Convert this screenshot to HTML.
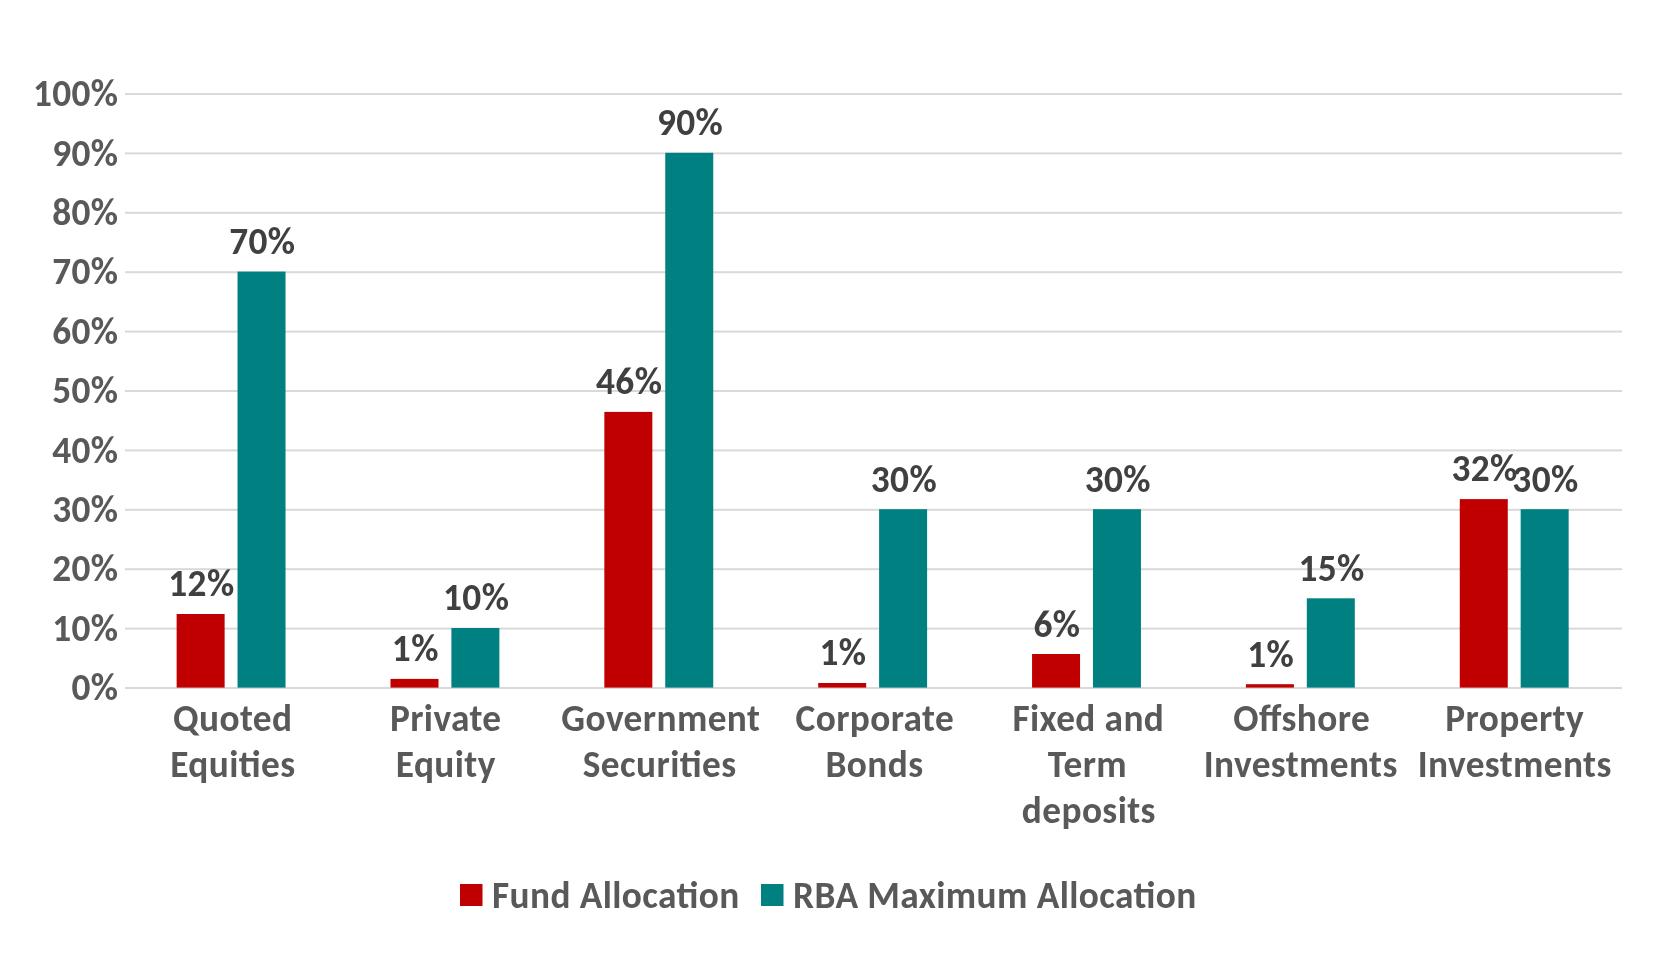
<!DOCTYPE html>
<html><head><meta charset="utf-8"><title>Fund Allocation vs RBA Maximum Allocation</title>
<style>
html,body{margin:0;padding:0;background:#fff;width:1680px;height:953px;overflow:hidden}
svg{display:block;will-change:transform}
text{font-family:Carlito, 'Liberation Sans', sans-serif;font-weight:bold;font-size:37.33px;letter-spacing:0.4px;font-feature-settings:'liga' 1}
</style></head><body>
<svg width="1680" height="953" viewBox="0 0 1680 953">
<rect width="1680" height="953" fill="#fff"/>
<rect x="125" y="687.00" width="1497" height="2" fill="#d9d9d9"/>
<rect x="125" y="627.60" width="1497" height="2" fill="#d9d9d9"/>
<rect x="125" y="568.20" width="1497" height="2" fill="#d9d9d9"/>
<rect x="125" y="508.80" width="1497" height="2" fill="#d9d9d9"/>
<rect x="125" y="449.40" width="1497" height="2" fill="#d9d9d9"/>
<rect x="125" y="390.00" width="1497" height="2" fill="#d9d9d9"/>
<rect x="125" y="330.60" width="1497" height="2" fill="#d9d9d9"/>
<rect x="125" y="271.20" width="1497" height="2" fill="#d9d9d9"/>
<rect x="125" y="211.80" width="1497" height="2" fill="#d9d9d9"/>
<rect x="125" y="152.40" width="1497" height="2" fill="#d9d9d9"/>
<rect x="125" y="93.00" width="1497" height="2" fill="#d9d9d9"/>
<text x="118.5" y="700" text-anchor="end" fill="#595959" textLength="46.94" lengthAdjust="spacingAndGlyphs">0%</text>
<text x="118.5" y="641" text-anchor="end" fill="#595959" textLength="66.27" lengthAdjust="spacingAndGlyphs">10%</text>
<text x="118.5" y="581" text-anchor="end" fill="#595959" textLength="66.27" lengthAdjust="spacingAndGlyphs">20%</text>
<text x="118.5" y="522" text-anchor="end" fill="#595959" textLength="66.27" lengthAdjust="spacingAndGlyphs">30%</text>
<text x="118.5" y="463" text-anchor="end" fill="#595959" textLength="66.27" lengthAdjust="spacingAndGlyphs">40%</text>
<text x="118.5" y="403" text-anchor="end" fill="#595959" textLength="66.27" lengthAdjust="spacingAndGlyphs">50%</text>
<text x="118.5" y="344" text-anchor="end" fill="#595959" textLength="66.27" lengthAdjust="spacingAndGlyphs">60%</text>
<text x="118.5" y="284" text-anchor="end" fill="#595959" textLength="66.27" lengthAdjust="spacingAndGlyphs">70%</text>
<text x="118.5" y="225" text-anchor="end" fill="#595959" textLength="66.27" lengthAdjust="spacingAndGlyphs">80%</text>
<text x="118.5" y="166" text-anchor="end" fill="#595959" textLength="66.27" lengthAdjust="spacingAndGlyphs">90%</text>
<text x="118.5" y="106" text-anchor="end" fill="#595959" textLength="85.58" lengthAdjust="spacingAndGlyphs">100%</text>
<rect x="176.63" y="614.00" width="48" height="73.60" fill="#c00000"/>
<rect x="237.53" y="271.60" width="48" height="416.00" fill="#008080"/>
<text x="201.43" y="596" text-anchor="middle" fill="#404040" textLength="66.27" lengthAdjust="spacingAndGlyphs">12%</text>
<text x="262.33" y="254" text-anchor="middle" fill="#404040" textLength="66.27" lengthAdjust="spacingAndGlyphs">70%</text>
<text x="232.73" y="730.70" text-anchor="middle" fill="#595959" textLength="119.42" lengthAdjust="spacingAndGlyphs">Quoted</text>
<text x="232.93" y="776.80" text-anchor="middle" fill="#595959" textLength="125.23" lengthAdjust="spacingAndGlyphs">Equities</text>
<rect x="390.49" y="678.90" width="48" height="8.70" fill="#c00000"/>
<rect x="451.39" y="628.00" width="48" height="59.60" fill="#008080"/>
<text x="415.29" y="661" text-anchor="middle" fill="#404040" textLength="46.94" lengthAdjust="spacingAndGlyphs">1%</text>
<text x="476.19" y="610" text-anchor="middle" fill="#404040" textLength="66.27" lengthAdjust="spacingAndGlyphs">10%</text>
<text x="445.69" y="730.70" text-anchor="middle" fill="#595959" textLength="111.58" lengthAdjust="spacingAndGlyphs">Private</text>
<text x="445.79" y="776.80" text-anchor="middle" fill="#595959" textLength="99.92" lengthAdjust="spacingAndGlyphs">Equity</text>
<rect x="604.34" y="411.90" width="48" height="275.70" fill="#c00000"/>
<rect x="665.24" y="152.80" width="48" height="534.80" fill="#008080"/>
<text x="629.14" y="394" text-anchor="middle" fill="#404040" textLength="66.27" lengthAdjust="spacingAndGlyphs">46%</text>
<text x="690.04" y="135" text-anchor="middle" fill="#404040" textLength="66.27" lengthAdjust="spacingAndGlyphs">90%</text>
<text x="660.84" y="730.70" text-anchor="middle" fill="#595959" textLength="198.94" lengthAdjust="spacingAndGlyphs">Government</text>
<text x="659.64" y="776.80" text-anchor="middle" fill="#595959" textLength="153.67" lengthAdjust="spacingAndGlyphs">Securities</text>
<rect x="818.20" y="683.00" width="48" height="4.60" fill="#c00000"/>
<rect x="879.10" y="509.20" width="48" height="178.40" fill="#008080"/>
<text x="843.00" y="665" text-anchor="middle" fill="#404040" textLength="46.94" lengthAdjust="spacingAndGlyphs">1%</text>
<text x="903.90" y="492" text-anchor="middle" fill="#404040" textLength="66.27" lengthAdjust="spacingAndGlyphs">30%</text>
<text x="874.85" y="730.70" text-anchor="middle" fill="#595959" textLength="158.61" lengthAdjust="spacingAndGlyphs">Corporate</text>
<text x="874.50" y="776.80" text-anchor="middle" fill="#595959" textLength="97.95" lengthAdjust="spacingAndGlyphs">Bonds</text>
<rect x="1032.06" y="654.00" width="48" height="33.60" fill="#c00000"/>
<rect x="1092.96" y="509.20" width="48" height="178.40" fill="#008080"/>
<text x="1056.86" y="637" text-anchor="middle" fill="#404040" textLength="46.94" lengthAdjust="spacingAndGlyphs">6%</text>
<text x="1117.76" y="492" text-anchor="middle" fill="#404040" textLength="66.27" lengthAdjust="spacingAndGlyphs">30%</text>
<text x="1088.36" y="730.70" text-anchor="middle" fill="#595959" textLength="151.92" lengthAdjust="spacingAndGlyphs">Fixed and</text>
<text x="1087.46" y="776.80" text-anchor="middle" fill="#595959" textLength="79.30" lengthAdjust="spacingAndGlyphs">Term</text>
<text x="1088.86" y="822.90" text-anchor="middle" fill="#595959" textLength="134.02" lengthAdjust="spacingAndGlyphs">deposits</text>
<rect x="1245.91" y="684.20" width="48" height="3.40" fill="#c00000"/>
<rect x="1306.81" y="598.30" width="48" height="89.30" fill="#008080"/>
<text x="1270.71" y="667" text-anchor="middle" fill="#404040" textLength="46.94" lengthAdjust="spacingAndGlyphs">1%</text>
<text x="1331.61" y="581" text-anchor="middle" fill="#404040" textLength="66.27" lengthAdjust="spacingAndGlyphs">15%</text>
<text x="1301.71" y="730.70" text-anchor="middle" fill="#595959" textLength="136.73" lengthAdjust="spacingAndGlyphs">Offshore</text>
<text x="1300.71" y="776.80" text-anchor="middle" fill="#595959" textLength="194.06" lengthAdjust="spacingAndGlyphs">Investments</text>
<rect x="1459.77" y="499.10" width="48" height="188.50" fill="#c00000"/>
<rect x="1520.67" y="509.20" width="48" height="178.40" fill="#008080"/>
<text x="1484.57" y="481" text-anchor="middle" fill="#404040" textLength="66.27" lengthAdjust="spacingAndGlyphs">32%</text>
<text x="1545.47" y="492" text-anchor="middle" fill="#404040" textLength="66.27" lengthAdjust="spacingAndGlyphs">30%</text>
<text x="1514.67" y="730.70" text-anchor="middle" fill="#595959" textLength="138.67" lengthAdjust="spacingAndGlyphs">Property</text>
<text x="1514.72" y="776.80" text-anchor="middle" fill="#595959" textLength="194.06" lengthAdjust="spacingAndGlyphs">Investments</text>
<rect x="460" y="884" width="22.5" height="22" fill="#c00000"/>
<text x="492" y="908" fill="#595959" textLength="247.73" lengthAdjust="spacingAndGlyphs">Fund Allocation</text>
<rect x="761" y="884" width="22.5" height="22" fill="#008080"/>
<text x="793" y="908" fill="#595959" textLength="403.72" lengthAdjust="spacingAndGlyphs">RBA Maximum Allocation</text>
</svg>
</body></html>
